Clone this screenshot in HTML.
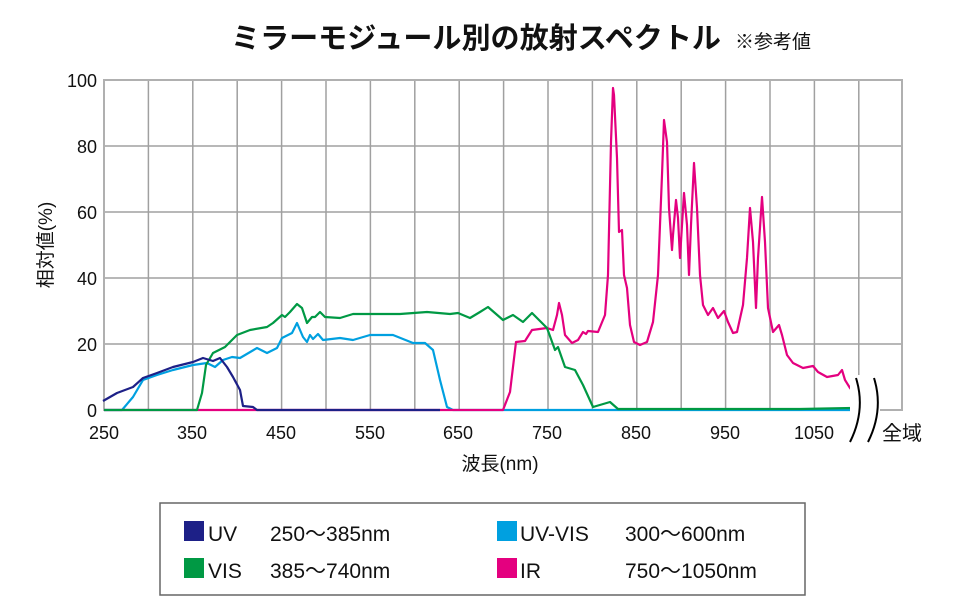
<!DOCTYPE html>
<html><head><meta charset="utf-8"><style>
body{margin:0;background:#fff;}
svg{display:block;font-family:"Liberation Sans","Noto Sans CJK JP",sans-serif;}
</style></head><body>
<svg width="960" height="600" viewBox="0 0 960 600" xmlns="http://www.w3.org/2000/svg">
<rect width="960" height="600" fill="#fff"/>
<text x="231" y="48" font-size="29" font-weight="bold" fill="#111" textLength="490" lengthAdjust="spacingAndGlyphs">ミラーモジュール別の放射スペクトル</text>
<text x="735" y="48" font-size="19" fill="#111">※参考値</text>
<g stroke="#a0a0a0" stroke-width="1.5" fill="none">
<path d="M104 80H903M104 146H903M104 212H903M104 278H903M104 344H903"/>
<path d="M148.4 80V410M192.8 80V410M237.2 80V410M281.6 80V410M326 80V410M370.4 80V410M414.8 80V410M459.2 80V410M503.6 80V410M548 80V410M592.4 80V410M636.8 80V410M681.2 80V410M725.6 80V410M770 80V410M814.4 80V410M858.8 80V410"/>
</g>
<rect x="104" y="80" width="798" height="330" fill="none" stroke="#b0b0b0" stroke-width="2"/>
<g font-size="18" fill="#111" text-anchor="end">
<text x="97" y="87">100</text><text x="97" y="153">80</text><text x="97" y="219">60</text><text x="97" y="285">40</text><text x="97" y="351">20</text><text x="97" y="417">0</text>
</g>
<g font-size="18" fill="#111" text-anchor="middle">
<text x="104" y="439">250</text><text x="192" y="439">350</text><text x="281" y="439">450</text><text x="370" y="439">550</text><text x="458" y="439">650</text><text x="547" y="439">750</text><text x="636" y="439">850</text><text x="725" y="439">950</text><text x="814" y="439">1050</text>
</g>
<text x="882" y="440" font-size="20" fill="#111">全域</text>
<text x="500" y="470" font-size="19" fill="#111" text-anchor="middle">波長(nm)</text>
<text transform="translate(52 245) rotate(-90)" font-size="19" fill="#111" text-anchor="middle">相対値(%)</text>
<g fill="none" stroke-width="2.2" stroke-linejoin="round">
<polyline stroke="#00a0e0" points="104,410 122,410 133,397 143,380 157,375 173,370 193,365 207,363 215,367 223,360 232,357 240,358 257,348 267,353 277,348 282,338 292,333 297,323 303,337 307,342 310,335 313,339 318,334 323,340 340,338 353,340 370,335 393,335 413,343 425,343 433,350 440,380 447,407 453,410 852,410"/>
<polyline stroke="#e4007f" points="104,410 503,410 510,392 516,342 525,341 532,330 547,328 553,330 557,315 559,303 562,315 565,335 572,343 578,340 583,332 586,334 588,331 598,332 605,315 608,275 611,142 613,88 614,95 617,158 619,232 622,230 624,275 627,288 630,325 634,342 640,345 647,342 653,322 658,275 662,175 664,120 667,142 669,208 672,250 673,235 676,200 678,218 680,258 682,225 684,193 687,225 689,275 691,225 694,163 697,208 700,275 703,305 708,315 713,308 718,318 724,311 728,322 733,333 737,332 743,305 747,258 750,208 753,242 756,308 758,258 762,197 765,242 768,308 773,332 779,325 782,335 787,355 793,363 803,368 813,366 818,372 827,377 838,375 842,370 845,380 850,388 857,397"/>
<polyline stroke="#009944" points="104,410 197,410 202,393 206,365 213,353 225,347 237,335 250,330 267,327 273,323 282,315 285,317 290,312 297,304 302,308 307,323 312,317 315,317 320,312 325,317 340,318 353,314 400,314 427,312 450,314 458,313 470,318 480,312 488,307 503,320 513,315 523,322 532,313 547,328 555,350 558,347 565,367 575,370 583,385 593,407 610,402 618,409 800,409 852,408"/>
<polyline stroke="#1d2087" points="103,401 117,393 133,387 143,378 157,373 173,367 193,362 203,358 213,361 220,358 227,367 233,377 240,390 243,406 253,407 257,410 440,410"/>
</g>
<rect x="850" y="375" width="30" height="70" fill="#fff"/>
<g fill="none" stroke="#000" stroke-width="2">
<path d="M856 378 Q866 410 850 442"/>
<path d="M874 378 Q884 410 868 442"/>
</g>
<rect x="160" y="503" width="645" height="92" fill="#fff" stroke="#666" stroke-width="1.5"/>
<g font-size="21" fill="#111">
<rect x="184" y="521" width="20" height="20" fill="#1d2087"/><text x="208" y="541">UV</text><text x="270" y="541">250～385nm</text>
<rect x="184" y="558" width="20" height="20" fill="#009944"/><text x="208" y="578">VIS</text><text x="270" y="578">385～740nm</text>
<rect x="497" y="521" width="20" height="20" fill="#00a0e0"/><text x="520" y="541">UV-VIS</text><text x="625" y="541">300～600nm</text>
<rect x="497" y="558" width="20" height="20" fill="#e4007f"/><text x="520" y="578">IR</text><text x="625" y="578">750～1050nm</text>
</g>
</svg>
</body></html>
